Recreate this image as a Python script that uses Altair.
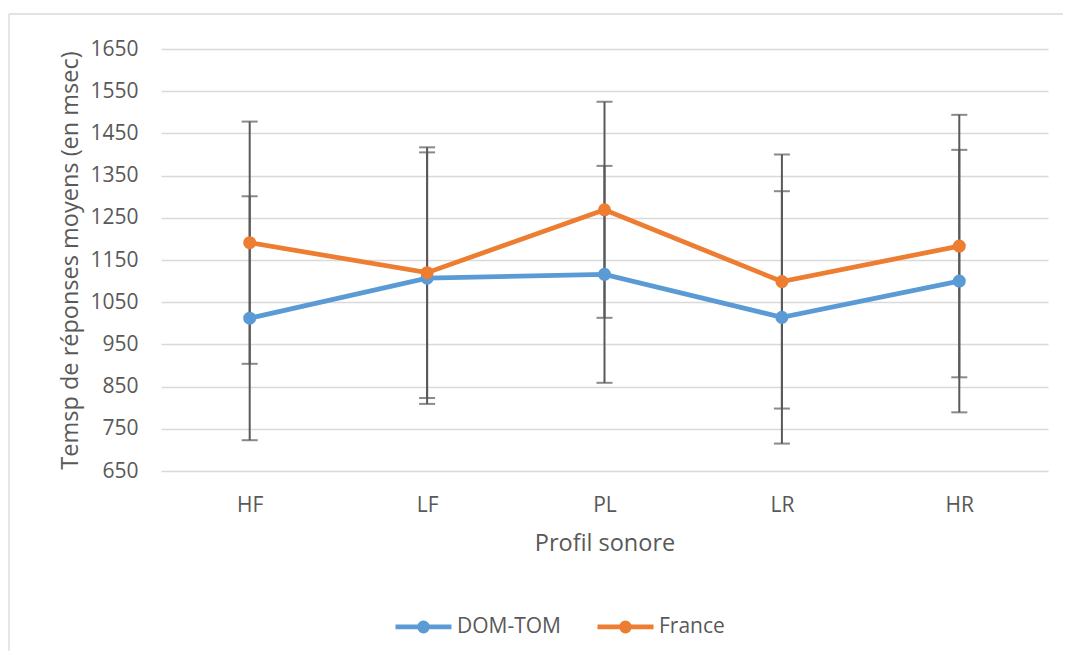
import altair as alt
import pandas as pd

categories = ["HF", "LF", "PL", "LR", "HR"]
series = ["DOM-TOM", "France"]
dom_mean = [1012, 1107, 1116, 1014, 1100]
dom_err = [289, 298, 257, 299, 311]
fr_mean = [1191, 1120, 1269, 1099, 1183]
fr_err = [287, 297, 256, 301, 311]
y_ticks = [650, 750, 850, 950, 1050, 1150, 1250, 1350, 1450, 1550, 1650]

rows = []
for s, means, errs in [("DOM-TOM", dom_mean, dom_err), ("France", fr_mean, fr_err)]:
    for c, m, e in zip(categories, means, errs):
        rows.append({"profil": c, "serie": s, "mean": m, "lo": m - e, "hi": m + e})
df = pd.DataFrame(rows)

FONT = "Open Sans"
GRAY = "#595959"
colors = ["#5B9BD5", "#ED7D31"]

x = alt.X("profil:N", sort=categories,
          scale=alt.Scale(type="point", padding=0.5),
          axis=alt.Axis(title="Profil sonore", labelAngle=0, domain=False, ticks=False,
                        grid=False, labelPadding=23, titlePadding=16))
y_scale = alt.Scale(domain=[650, 1650], nice=False, zero=False)
y_axis = alt.Axis(title="Temsp de réponses moyens (en msec)", values=y_ticks, format="d",
                  domain=False, ticks=False, grid=True, labelPadding=23, titlePadding=7)

base = alt.Chart(df)

err_rule = base.mark_rule(color=GRAY, strokeWidth=2).encode(
    x=x, y=alt.Y("lo:Q", scale=y_scale, axis=y_axis), y2="hi:Q")
cap_lo = base.mark_tick(color=GRAY, thickness=2, size=16, orient="horizontal").encode(
    x=x, y=alt.Y("lo:Q", scale=y_scale))
cap_hi = base.mark_tick(color=GRAY, thickness=2, size=16, orient="horizontal").encode(
    x=x, y=alt.Y("hi:Q", scale=y_scale))

sym = ("M-1,0H1 "
       "M-0.143,0A0.143,0.143 0 1,0 0.143,0A0.143,0.143 0 1,0 -0.143,0 "
       "M-0.045,0A0.045,0.045 0 1,0 0.045,0A0.045,0.045 0 1,0 -0.045,0")
legend = alt.Legend(title=None, orient="none", direction="horizontal",
                    legendX=232, legendY=547,
                    symbolType=sym, symbolSize=3136, symbolStrokeWidth=4.75,
                    labelOffset=3, columnPadding=26, labelFont=FONT, labelFontSize=21,
                    labelColor=GRAY)

lines = base.mark_line(strokeWidth=4.75, point=alt.OverlayMarkDef(filled=True, size=170, strokeWidth=0)).encode(
    x=x, y=alt.Y("mean:Q", scale=y_scale),
    color=alt.Color("serie:N", scale=alt.Scale(domain=series, range=colors), legend=legend))

border_top = alt.Chart(pd.DataFrame({"a": [0]})).mark_rule(color="#d9d9d9", strokeWidth=1.3).encode(
    x=alt.value(-152), x2=alt.value(910), y=alt.value(-35))
border_left = alt.Chart(pd.DataFrame({"a": [0]})).mark_rule(color="#d9d9d9", strokeWidth=1.3).encode(
    x=alt.value(-152), y=alt.value(-35), y2=alt.value(620))

chart = alt.layer(border_top, border_left, err_rule, cap_lo, cap_hi, lines).properties(
    width=887, height=422,
    autosize=alt.AutoSizeParams(type="none"),
    padding={"left": 153, "top": 41, "right": 15, "bottom": 180},
).configure_view(stroke=None).configure_axis(
    labelFont=FONT, labelFontSize=21, labelColor=GRAY,
    titleFont=FONT, titleFontSize=23.5, titleColor=GRAY, titleFontWeight="normal",
    gridColor="#d9d9d9", gridWidth=1.3,
)

chart.save("out.html", embed_options={"renderer": "svg", "actions": False})
